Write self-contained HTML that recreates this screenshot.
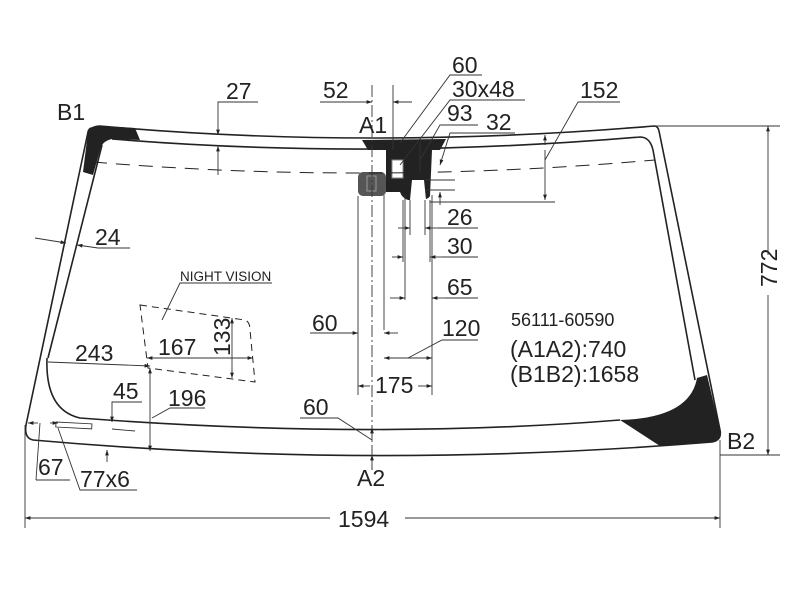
<!DOCTYPE html>
<html><head><style>
html,body{margin:0;padding:0;background:#fff;}
svg{display:block;}
text{font-family:"Liberation Sans",sans-serif;fill:#222;}
</style></head><body>
<svg width="800" height="600" viewBox="0 0 800 600" xmlns="http://www.w3.org/2000/svg">
<defs>
<marker id="a" viewBox="0 0 10 10" refX="10" refY="5" markerWidth="8" markerHeight="6" orient="auto-start-reverse"><path d="M0,1.5 L10,5 L0,8.5 z" fill="#222"/></marker>
</defs>
<g fill="none" stroke="#222" stroke-width="1.6">
<path d="M92,128 Q96,126 100,126 Q370,150 654,126 Q658,126 659,131 L720,430 Q722,440 712,442 Q370,470 33,440 Q24,438 26,425 L88,132 Q89,128 92,128 Z"/>
<path d="M112,139 Q370,160 640,137 Q650,137 653,150 L695,380 M47,358 Q45,410 80,418 Q370,440 620,420"/>
<path d="M102,145 L48,358"/>
</g>
<path d="M92,127 L100,126 L135,128 L140,140 L112,139 Q102,141 100,150 L93,175 L83,172 L88,132 Z" fill="#222"/>
<path d="M362,140 L446,139 L440,150 L432,150 L430,196 Q428,200 418,200 L408,200 Q402,198 400,192 L386,192 L386,150 L368,150 Z" fill="#222"/>
<rect x="392" y="160" width="11" height="18" fill="#fff" stroke="#888"/>
<path d="M412,180 L424,180 L426,200 L410,200 Z" fill="#fff"/>
<rect x="358" y="172" width="28" height="24" rx="5" fill="#555"/>
<rect x="367" y="176" width="9" height="15" fill="none" stroke="#999"/>
<path d="M697,378 L707,375 L720,430 Q722,440 712,442 L660,446 L620,420 Q690,418 697,378 Z" fill="#222"/>
<g fill="none" stroke="#222" stroke-width="1.2">
<path d="M93,162 Q370,185 655,160" stroke-dasharray="14,9" stroke-width="1"/>
<path d="M140,305 L245,320 Q250,322 250,330 L255,382 L148,368 Z" stroke-dasharray="7,5" stroke-width="1"/>
</g>
<g fill="none" stroke="#333" stroke-width="0.9">
<line x1="372" y1="85" x2="372" y2="470" stroke-dasharray="12,3,2,3"/>
<line x1="25" y1="425" x2="25" y2="528"/><line x1="720" y1="440" x2="720" y2="528"/>
<line x1="25" y1="518" x2="330" y2="518" marker-start="url(#a)"/><line x1="405" y1="518" x2="720" y2="518" marker-end="url(#a)"/>
<line x1="655" y1="126" x2="780" y2="126"/><line x1="720" y1="455" x2="780" y2="455"/>
<line x1="768" y1="126" x2="768" y2="255" marker-start="url(#a)"/><line x1="768" y1="295" x2="768" y2="455" marker-end="url(#a)"/>
<path d="M258,102 L218,102 L218,135" marker-end="url(#a)"/><line x1="218" y1="175" x2="218" y2="146" marker-end="url(#a)"/>
<path d="M320,102 L372,102" marker-end="url(#a)"/><line x1="412" y1="102" x2="393" y2="102" marker-end="url(#a)"/>
<line x1="393" y1="85" x2="393" y2="150"/>
<path d="M482,75 L450,75 L400,143"/><path d="M525,100 L450,100 L400,165"/>
<path d="M478,125 L440,125 L420,160"/>
<line x1="400" y1="145" x2="400" y2="150" marker-end="url(#a)"/>
<line x1="420" y1="142" x2="420" y2="178" marker-end="url(#a)"/>
<path d="M515,133 L450,133 L440,165" marker-end="url(#a)"/>
<line x1="425" y1="180" x2="455" y2="180"/><line x1="425" y1="190" x2="455" y2="190"/>
<line x1="440" y1="205" x2="440" y2="192" marker-end="url(#a)"/>
<path d="M620,102 L578,102 L545,160"/>
<line x1="545" y1="135" x2="545" y2="145" marker-start="url(#a)"/><line x1="545" y1="150" x2="545" y2="200" marker-end="url(#a)"/>
<line x1="430" y1="202" x2="555" y2="202"/>
<line x1="410" y1="200" x2="410" y2="235"/><line x1="425" y1="200" x2="425" y2="235"/>
<line x1="403" y1="200" x2="403" y2="262"/><line x1="430" y1="200" x2="430" y2="262"/>
<line x1="398" y1="228" x2="410" y2="228" marker-end="url(#a)"/><line x1="438" y1="228" x2="425" y2="228" marker-end="url(#a)"/><line x1="438" y1="228" x2="478" y2="228"/>
<line x1="392" y1="257" x2="403" y2="257" marker-end="url(#a)"/><line x1="442" y1="257" x2="430" y2="257" marker-end="url(#a)"/><line x1="442" y1="257" x2="478" y2="257"/>
<line x1="384" y1="195" x2="384" y2="330"/><line x1="405" y1="195" x2="405" y2="300"/><line x1="432" y1="195" x2="432" y2="395"/>
<line x1="390" y1="298" x2="405" y2="298" marker-end="url(#a)"/><line x1="445" y1="298" x2="432" y2="298" marker-end="url(#a)"/><line x1="445" y1="298" x2="478" y2="298"/>
<line x1="358" y1="196" x2="358" y2="395"/>
<line x1="310" y1="333" x2="358" y2="333" marker-end="url(#a)"/><line x1="398" y1="333" x2="384" y2="333" marker-end="url(#a)"/>
<line x1="384" y1="358" x2="432" y2="358" marker-start="url(#a)" marker-end="url(#a)"/>
<path d="M478,340 L442,340 L408,358"/>
<line x1="358" y1="386" x2="370" y2="386" marker-start="url(#a)"/><line x1="418" y1="386" x2="432" y2="386" marker-end="url(#a)"/>
<path d="M300,418 L338,418 L372,440"/><line x1="372" y1="428" x2="372" y2="440" marker-start="url(#a)"/>
<line x1="372" y1="470" x2="372" y2="455" marker-end="url(#a)"/>
<line x1="35" y1="238" x2="66" y2="243" marker-end="url(#a)"/><line x1="98" y1="248" x2="77" y2="245" marker-end="url(#a)"/><line x1="98" y1="248" x2="130" y2="248"/>
<path d="M272,283 L180,283 L162,320"/>
<line x1="147" y1="358" x2="253" y2="358" marker-start="url(#a)" marker-end="url(#a)"/>
<line x1="232" y1="318" x2="232" y2="378" marker-start="url(#a)" marker-end="url(#a)"/>
<line x1="48" y1="362" x2="150" y2="366" marker-end="url(#a)"/>
<line x1="150" y1="368" x2="150" y2="451" marker-start="url(#a)" marker-end="url(#a)"/>
<path d="M205,408 L170,408 L152,418"/>
<path d="M142,402 L112,402 L112,422" marker-end="url(#a)"/><line x1="112" y1="429" x2="135" y2="431"/>
<line x1="28" y1="423" x2="38" y2="423" marker-start="url(#a)"/><line x1="50" y1="423" x2="58" y2="423" marker-end="url(#a)"/>
<path d="M36,480 L70,480 M36,480 L40,423"/>
<rect x="56" y="422" width="36" height="5" transform="rotate(3 56 422)"/>
<path d="M137,490 L80,490 L58,428"/>
<line x1="107" y1="462" x2="107" y2="450" marker-end="url(#a)"/>
</g>
<g font-size="23">
<text x="57" y="120">B1</text>
<text x="226" y="99">27</text>
<text x="323" y="98">52</text>
<text x="359" y="133">A1</text>
<text x="452" y="73">60</text>
<text x="452" y="97">30x48</text>
<text x="447" y="121">93</text>
<text x="486" y="130">32</text>
<text x="580" y="98">152</text>
<text x="447" y="225">26</text>
<text x="447" y="254">30</text>
<text x="447" y="295">65</text>
<text x="95" y="245">24</text>
<text x="158" y="355">167</text>
<text transform="translate(230,356) rotate(-90)">133</text>
<text x="312" y="331">60</text>
<text x="442" y="336">120</text>
<text x="510" y="357">(A1A2):740</text>
<text x="510" y="382">(B1B2):1658</text>
<text x="75" y="361">243</text>
<text x="113" y="399">45</text>
<text x="168" y="406">196</text>
<text x="375" y="393">175</text>
<text x="303" y="415">60</text>
<text transform="translate(777,287) rotate(-90)">772</text>
<text x="727" y="449">B2</text>
<text x="357" y="486">A2</text>
<text x="38" y="475">67</text>
<text x="80" y="487">77x6</text>
<text x="338" y="527">1594</text>
</g>
<text x="180" y="281" font-size="13.5">NIGHT VISION</text>
<text x="511" y="326" font-size="18">56111-60590</text>
</svg>
</body></html>
